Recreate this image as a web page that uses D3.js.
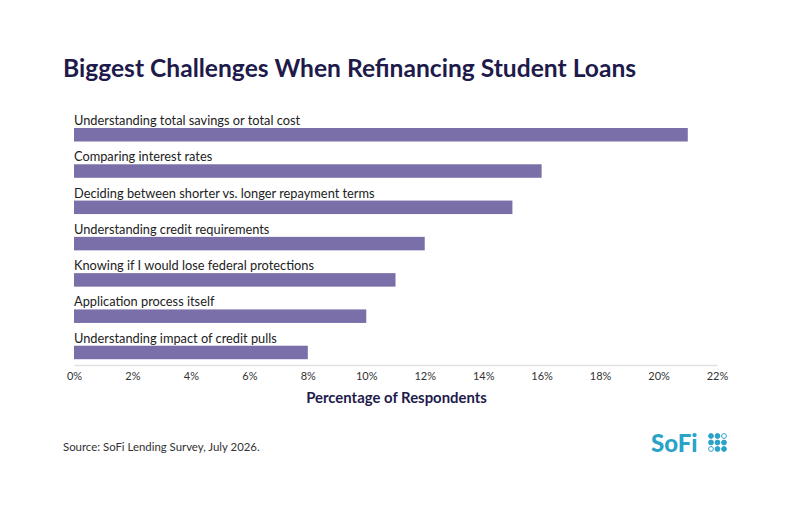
<!DOCTYPE html>
<html><head><meta charset="utf-8">
<script src="https://cdn.jsdelivr.net/npm/d3@7"></script>
<style>body{margin:0;background:#fff}svg{display:block}</style>
</head><body>
<script>
const categories = [
  "Understanding total savings or total cost",
  "Comparing interest rates",
  "Deciding between shorter vs. longer repayment terms",
  "Understanding credit requirements",
  "Knowing if I would lose federal protections",
  "Application process itself",
  "Understanding impact of credit pulls"
];
const values = [21, 16, 15, 12, 11, 10, 8];
const tickValues = [0,2,4,6,8,10,12,14,16,18,20,22];

const W = 794, H = 513;
const svg = d3.select("body").append("svg").attr("width", W).attr("height", H);
const font = "Lato, 'Open Sans', sans-serif";
const navy = "#1e1b4b";
const barColor = "#7a6fa8";

svg.append("text").attr("x", 63).attr("y", 77)
  .attr("font-family", font).attr("font-weight", 700).attr("font-size", 24.6)
  .attr("fill", navy).text("Biggest Challenges When Refinancing Student Loans");

const x = d3.scaleLinear().domain([0, 22]).range([74, 717]);
const y = d3.scaleBand().domain(categories).range([110, 364]);

const g = svg.append("g");
g.selectAll("rect.bar").data(categories).join("rect")
  .attr("x", x(0)).attr("y", d => y(d) + 18)
  .attr("width", (d,i) => x(values[i]) - x(0)).attr("height", 13.5)
  .attr("fill", barColor);
g.selectAll("text.lbl").data(categories).join("text")
  .attr("x", x(0)).attr("y", d => y(d) + 15)
  .attr("font-family", font).attr("font-size", 12.8).attr("fill", "#222")
  .text(d => d);

const axis = d3.axisBottom(x).tickValues(tickValues).tickFormat(d => d + "%").tickSize(0).tickPadding(7);
const ag = svg.append("g").attr("transform", "translate(0,365)").call(axis);
ag.select(".domain").attr("stroke", "#e2e2e2").attr("stroke-width", 1.5);
ag.selectAll("text").attr("font-family", font).attr("font-size", 11).attr("fill", "#333");

svg.append("text").attr("x", x(11) + 1).attr("y", 403).attr("text-anchor", "middle")
  .attr("font-family", font).attr("font-weight", 700).attr("font-size", 14.9).attr("fill", navy)
  .text("Percentage of Respondents");

svg.append("text").attr("x", 63).attr("y", 451)
  .attr("font-family", font).attr("font-size", 11.4).attr("fill", "#333")
  .text("Source: SoFi Lending Survey, July 2026.");

// logo
const teal = "#2aa3c9";
svg.append("text").attr("x", 651).attr("y", 452)
  .attr("font-family", font).attr("font-weight", 900).attr("font-size", 24).attr("fill", teal)
  .text("SoFi");
const dots = [[1,1,0],[1,1,1],[0,1,1]];
dots.forEach((row, r) => row.forEach((f, c) => {
  svg.append("circle").attr("cx", 711 + c*6.5).attr("cy", 436 + r*6.5).attr("r", 2.4)
    .attr("fill", f ? teal : "none").attr("stroke", teal).attr("stroke-width", 1);
}));
</script>
</body></html>
